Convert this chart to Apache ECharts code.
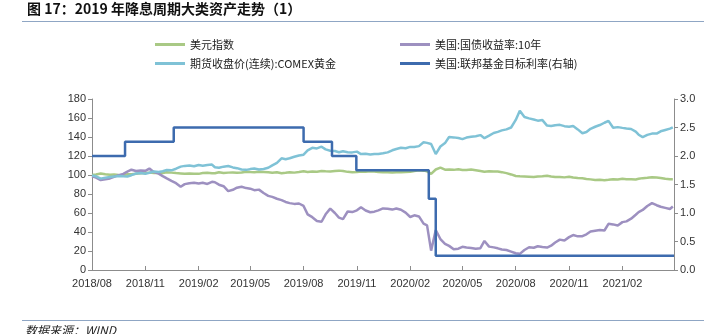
<!DOCTYPE html>
<html>
<head>
<meta charset="utf-8">
<script src="https://cdn.jsdelivr.net/npm/echarts@6/dist/echarts.min.js"></script>
<style>
  html, body { margin: 0; padding: 0; background: #fff; }
  #chart { width: 726px; height: 334px; }
</style>
</head>
<body>
<div id="chart"></div>
<script>
// Sampling dates: four points per month, plus the last trading day shown
const months = [
  '2018-08','2018-09','2018-10','2018-11','2018-12',
  '2019-01','2019-02','2019-03','2019-04','2019-05','2019-06','2019-07','2019-08','2019-09','2019-10','2019-11','2019-12',
  '2020-01','2020-02','2020-03','2020-04','2020-05','2020-06','2020-07','2020-08','2020-09','2020-10','2020-11','2020-12',
  '2021-01','2021-02','2021-03','2021-04'
];
const weekDays = ['01', '08', '16', '24'];
const lastDate = '2021-04-29';

// 美元指数 (2018/08 = 100)
const usdIndex = [
  100.0, 100.6, 101.6, 100.8,
  100.3, 100.6, 99.9, 99.6,
  100.8, 100.9, 101.2, 101.8,
  102.1, 102.5, 102.0, 102.3,
  102.2, 102.8, 102.5, 102.0,
  101.7, 101.2, 101.6, 101.4,
  101.2, 102.1, 102.4, 101.9,
  101.8, 102.9, 102.1, 102.5,
  102.6, 102.4, 102.6, 103.4,
  103.1, 102.9, 103.5, 103.2,
  102.9, 102.3, 102.8, 101.8,
  102.3, 102.9, 102.5, 103.2,
  104.0, 103.2, 103.8, 103.5,
  104.2, 104.0, 103.8, 104.3,
  104.6, 104.1, 103.3, 103.0,
  103.1, 103.7, 103.5, 103.9,
  103.6, 103.1, 102.9, 103.0,
  102.6, 103.0, 102.9, 103.2,
  103.4, 104.2, 105.0, 104.6,
  103.8, 101.2, 105.8, 107.8,
  105.6, 105.8, 105.4, 106.0,
  105.3, 105.2, 105.8, 105.0,
  104.2, 103.4, 104.0, 103.8,
  103.6, 103.0, 102.0, 100.6,
  98.9, 98.6, 98.4, 98.2,
  97.8, 98.4, 98.6, 99.2,
  98.4, 97.8, 97.9, 97.5,
  98.2, 97.3, 96.9, 96.6,
  95.9, 95.4, 94.8, 94.9,
  94.6, 94.9, 95.6, 95.3,
  96.0, 95.6, 95.5, 95.3,
  96.0, 96.7, 97.0, 97.6,
  97.4, 96.9, 96.0, 95.5, 95.6
];

// 期货收盘价(连续):COMEX黄金 (2018/08 = 100)
const goldFutures = [
  99.5, 98.6, 96.2, 97.2,
  97.8, 98.3, 99.0, 98.6,
  98.4, 99.8, 101.6, 102.2,
  101.4, 102.4, 103.6, 103.2,
  104.0, 105.2, 104.9, 106.6,
  108.8, 109.6, 110.0, 109.2,
  110.6, 109.8, 110.6, 111.0,
  108.2, 107.6, 108.8, 109.4,
  108.0, 107.2, 105.8, 105.4,
  106.2, 106.8, 105.8, 106.4,
  107.6, 110.2, 112.8, 117.6,
  116.6, 117.6, 119.2, 120.6,
  121.4, 126.0, 128.6, 128.0,
  129.8, 127.0, 125.6, 125.2,
  124.0, 125.0, 124.0, 123.8,
  124.6, 122.0, 122.4, 121.6,
  122.2, 122.0, 122.8, 123.8,
  126.0, 127.4, 128.6, 128.2,
  129.6, 129.4, 130.4, 134.4,
  133.8, 132.6, 122.0, 130.0,
  133.6, 140.0, 139.6, 139.0,
  137.8, 139.4, 140.2, 140.8,
  142.0, 138.8, 141.4, 144.2,
  145.4, 147.0, 148.0, 150.0,
  158.0, 167.6, 161.0, 159.6,
  158.4, 157.2, 157.8, 152.0,
  151.6, 152.4, 152.8, 151.4,
  150.8, 151.6, 148.0, 144.0,
  145.2, 148.6, 150.8, 152.6,
  155.0, 157.0, 149.8, 150.4,
  149.6, 149.0, 148.4, 145.6,
  142.4, 139.8, 142.2, 143.6,
  143.6, 146.0, 147.4, 148.8, 150.2
];

// 美国:国债收益率:10年 (2018/08 = 100)
const ust10y = [
  98.6, 97.2, 94.6, 95.4,
  96.4, 98.0, 99.8, 101.2,
  103.6, 105.6, 104.2, 104.8,
  104.4, 106.8, 103.0, 101.4,
  98.8, 96.4, 93.8, 91.4,
  87.6, 90.4, 91.4, 91.8,
  91.0, 91.8, 90.6, 92.8,
  92.4, 89.8, 88.2, 83.0,
  84.4, 86.6, 87.6, 86.2,
  85.6, 84.0, 84.6, 81.0,
  78.0, 77.0, 75.0, 73.6,
  71.6, 70.4, 69.6, 70.0,
  67.4, 58.6, 55.6, 51.6,
  50.8, 58.6, 64.6, 60.0,
  55.2, 53.6, 61.6, 61.0,
  62.8, 66.0, 62.6, 60.8,
  61.4, 62.8, 64.8, 64.4,
  63.6, 64.8, 63.4, 60.4,
  55.8, 57.6, 56.4, 48.8,
  47.0, 20.4, 42.0, 32.6,
  27.6, 25.4, 21.8, 22.4,
  24.4, 23.6, 23.2, 22.4,
  23.0, 30.6, 24.6, 23.8,
  22.8, 21.6, 21.0, 19.4,
  17.6, 17.0, 21.0, 24.0,
  23.4, 25.0, 24.2, 23.6,
  25.6, 29.0, 32.0, 31.0,
  34.6, 36.8, 35.4, 35.6,
  37.6, 40.6, 41.4, 42.2,
  41.6, 48.6, 48.0, 46.8,
  50.4, 51.2, 54.0, 58.2,
  61.0, 63.2, 67.4, 70.4,
  68.2, 66.6, 65.4, 64.2, 66.8
];

// 美国:联邦基金目标利率 (%), one entry per change
const fedDates = ['2018-08-01','2018-09-27','2018-12-20','2019-08-01','2019-09-19','2019-10-31','2020-03-04','2020-03-16','2021-05-01'];
const fedRates = [2.00, 2.25, 2.50, 2.25, 2.00, 1.75, 1.25, 0.25, 0.25];

// Axis ticks (quarterly) and their labels
const tickLabels = ['2018/08','2018/11','2019/02','2019/05','2019/08','2019/11','2020/02','2020/05','2020/08','2020/11','2021/02'];
const axisEnd = '2021/05';

const toTime = s => {
  const p = s.split(/[-\/]/).map(Number);
  return new Date(p[0], p[1] - 1, p[2] || 1).getTime();
};

const dates = months.flatMap(m => weekDays.map(d => m + '-' + d)).concat([lastDate]);
const pairs = vals => vals.map((v, i) => [toTime(dates[i]), v]);

const labelTimes = tickLabels.map(toTime);
const tickTimes = labelTimes.concat([toTime(axisEnd)]);

const names = ['美元指数', '美国:国债收益率:10年', '期货收盘价(连续):COMEX黄金', '美国:联邦基金目标利率(右轴)'];
const colors = ['#A9C985', '#9D90C0', '#7FC2D6', '#3D6BAE'];

const axisGray = '#8C8C8C';
const labelFont = { color: '#333', fontSize: 11, fontFamily: 'Liberation Sans' };
const legendCommon = {
  icon: 'rect', itemWidth: 30, itemHeight: 3, padding: 0,
  selectedMode: false,
  textStyle: { fontSize: 11, color: '#222', fontFamily: 'Noto Sans CJK SC' }
};

const chart = echarts.init(document.getElementById('chart'), null, { renderer: 'canvas' });
chart.setOption({
  animation: false,
  color: colors,
  grid: { left: 92, right: 52, top: 99, bottom: 64, containLabel: false },
  legend: [
    Object.assign({ data: [names[0]], left: 155, top: 39 }, legendCommon),
    Object.assign({ data: [names[1]], left: 400, top: 39 }, legendCommon),
    Object.assign({ data: [names[2]], left: 155, top: 58 }, legendCommon),
    Object.assign({ data: [names[3]], left: 400, top: 58 }, legendCommon)
  ],
  xAxis: {
    type: 'value',
    min: toTime('2018-08-01'),
    max: toTime(axisEnd),
    axisLine: { lineStyle: { color: axisGray, width: 1 } },
    axisTick: { show: true, inside: true, length: 4, customValues: tickTimes, lineStyle: { color: axisGray } },
    axisLabel: Object.assign({
      customValues: labelTimes,
      margin: 8,
      showMinLabel: true,
      showMaxLabel: true,
      formatter: v => tickLabels[labelTimes.indexOf(v)] || ''
    }, labelFont),
    splitLine: { show: false }
  },
  yAxis: [
    {
      type: 'value', min: 0, max: 180, interval: 20,
      axisLine: { show: true, lineStyle: { color: axisGray } },
      axisTick: { show: true, length: 4, lineStyle: { color: axisGray } },
      axisLabel: Object.assign({ margin: 6 }, labelFont),
      splitLine: { show: false }
    },
    {
      type: 'value', min: 0, max: 3, interval: 0.5, position: 'right',
      axisLine: { show: true, lineStyle: { color: axisGray } },
      axisTick: { show: true, length: 4, lineStyle: { color: axisGray } },
      axisLabel: Object.assign({ margin: 6, formatter: v => v.toFixed(1) }, labelFont),
      splitLine: { show: false }
    }
  ],
  series: [
    { name: names[0], type: 'line', data: pairs(usdIndex), showSymbol: false, lineStyle: { width: 2.5 } },
    { name: names[1], type: 'line', data: pairs(ust10y), showSymbol: false, lineStyle: { width: 2.5 } },
    { name: names[2], type: 'line', data: pairs(goldFutures), showSymbol: false, lineStyle: { width: 2.5 } },
    {
      name: names[3], type: 'line', yAxisIndex: 1, step: 'end', showSymbol: false,
      data: fedDates.map((d, i) => [toTime(d), fedRates[i]]),
      lineStyle: { width: 2.5 }
    }
  ],
  graphic: [
    {
      type: 'text', left: 27, top: 2,
      style: { text: '图 17：2019 年降息周期大类资产走势（1）', fill: '#111', fontSize: 14, fontWeight: 'bold', fontFamily: 'Noto Sans CJK SC' }
    },
    { type: 'line', shape: { x1: 22, y1: 21.5, x2: 704, y2: 21.5 }, style: { stroke: '#8FA6C4', lineWidth: 1 } },
    { type: 'line', shape: { x1: 22, y1: 320.5, x2: 704, y2: 320.5 }, style: { stroke: '#8FA6C4', lineWidth: 1 } },
    {
      type: 'text', left: 25, top: 324,
      style: { text: '数据来源：WIND', fill: '#222', fontSize: 12, fontStyle: 'italic', fontFamily: 'Noto Sans CJK SC' }
    }
  ]
});
</script>
</body>
</html>
